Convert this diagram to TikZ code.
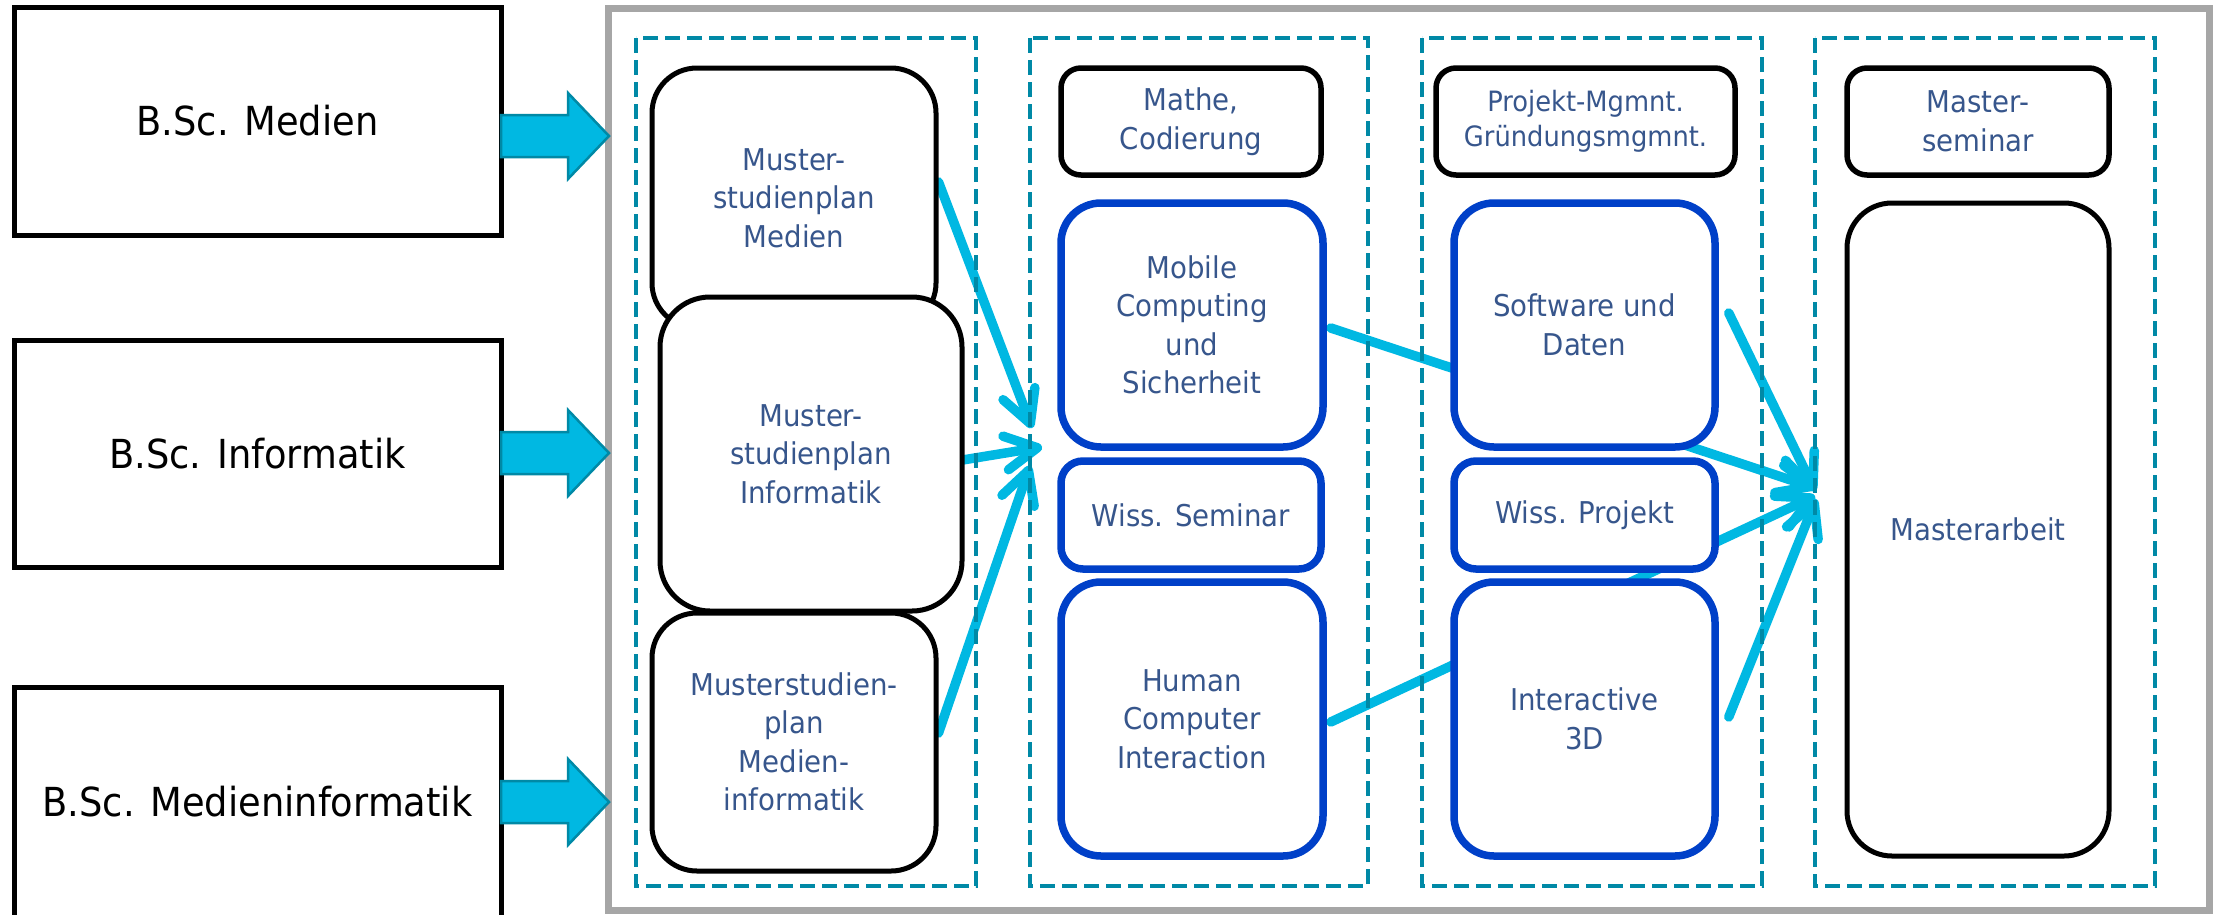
\documentclass[tikz,border=0pt]{standalone}
\usepackage{fontspec}
\setmainfont[FakeStretch=0.92]{DejaVu Sans}
\usetikzlibrary{arrows.meta,calc}
\pgfdeclarelayer{bg}
\pgfdeclarelayer{mid}
\pgfsetlayers{bg,mid,main}
\definecolor{txtc}{RGB}{55,86,140}
\definecolor{cyanfill}{RGB}{0,184,226}
\definecolor{tealc}{RGB}{0,137,166}
\definecolor{boxblue}{RGB}{0,64,200}
\definecolor{framegray}{RGB}{166,166,166}
\tikzset{
  leftbox/.style={draw=black, line width=5pt, fill=white, inner sep=0pt,
    minimum width=487pt, font=\fontsize{40}{48}\selectfont},
  bigarrow/.style={fill=cyanfill, draw=tealc, line width=2.5pt, line join=miter},
  outerframe/.style={draw=framegray, line width=7pt},
  colbox/.style={draw=tealc, line width=4.5pt, dash pattern=on 15pt off 7pt},
  blackbox/.style={draw=black, line width=5pt, fill=white, inner sep=0pt,
    align=center, text=txtc, font=\fontsize{30}{38.5}\selectfont},
  bluebox/.style={draw=boxblue, line width=7.5pt, fill=white, inner sep=0pt,
    align=center, text=txtc, font=\fontsize{30}{38.5}\selectfont},
  conn/.style={draw=cyanfill, line width=9.5pt, line cap=round,
    -{Straight Barb[length=32pt,width=34pt,round]}},
}
\begin{document}
\begin{tikzpicture}[x=1pt,y=-1pt]
\useasboundingbox (0,0) rectangle (2222,914);

% left boxes
\node[leftbox, minimum height=228pt] (bm) at (257.5,121) {B.Sc. Medien};
\node[leftbox, minimum height=227pt] (bi) at (257.5,453.5) {B.Sc. Informatik};
\node[leftbox, minimum height=230pt] (bmi) at (257.5,802) {B.Sc. Medieninformatik};

% big arrows
\foreach \yy in {136,453,802}{
  \draw[bigarrow] (501,\yy-21) -- (568,\yy-21) -- (568,\yy-43) -- (609,\yy)
    -- (568,\yy+43) -- (568,\yy+21) -- (501,\yy+21) -- cycle;
}

% column 1
\node[blackbox, rounded corners=45pt, minimum width=284pt, minimum height=260pt] (msm) at (794,198)
  {Muster-\\studienplan\\Medien};
\node[blackbox, rounded corners=50pt, minimum width=302pt, minimum height=314pt] (msi) at (811,454)
  {Muster-\\studienplan\\Informatik};
\node[blackbox, rounded corners=45pt, minimum width=284pt, minimum height=258pt] (msmi) at (794,742)
  {Musterstudien-\\plan\\Medien-\\informatik};

% column 2
\node[blackbox, line width=5.5pt, rounded corners=20pt, minimum width=260pt, minimum height=107pt] (mc) at (1191,121.5)
  {Mathe,\\Codierung};
\node[bluebox, rounded corners=40pt, minimum width=262pt, minimum height=244pt] (mob) at (1192,325)
  {Mobile\\Computing\\und\\Sicherheit};
\node[bluebox, rounded corners=22pt, minimum width=260pt, minimum height=108pt] (ws) at (1191,515)
  {Wiss. Seminar};
\node[bluebox, rounded corners=40pt, minimum width=262pt, minimum height=274pt] (hci) at (1192,719)
  {Human\\Computer\\Interaction};

% column 3
\node[blackbox, line width=5.5pt, rounded corners=20pt, minimum width=299pt, minimum height=107pt,
  font=\fontsize{28}{35}\selectfont] (pm) at (1585.5,121.5)
  {Projekt-Mgmnt.\\Gründungsmgmnt.};
\node[bluebox, rounded corners=40pt, minimum width=261pt, minimum height=244pt] (sw) at (1584.5,325)
  {Software und\\Daten};
\node[bluebox, rounded corners=22pt, minimum width=261pt, minimum height=108pt] (wp) at (1584.5,515)
  {Wiss. Projekt};
\node[bluebox, rounded corners=40pt, minimum width=261pt, minimum height=274pt] (i3d) at (1584.5,719)
  {Interactive\\3D};

% column 4
\node[blackbox, line width=5.5pt, rounded corners=20pt, minimum width=262pt, minimum height=107pt] (ms) at (1978,121.5)
  {Master-\\seminar};
\node[blackbox, rounded corners=45pt, minimum width=262pt, minimum height=653pt] (ma) at (1978,529.5)
  {Masterarbeit};

% tip coordinates
\coordinate (tl1) at (1032,428);
\coordinate (tl2) at (1042,447);
\coordinate (tl3) at (1030,466);
\coordinate (tr1) at (1815,488);
\coordinate (tr2) at (1815,491);
\coordinate (tr3) at (1815,496);
\coordinate (tr4) at (1816,499);

\begin{pgfonlayer}{bg}
  \fill[white] (0,0) rectangle (2222,914);
  \draw[outerframe] (608,8) rectangle (2209,910);
  \draw[conn] ($(msm.east)+(0,-16)$) -- (tl1);
  \draw[conn] ($(msi.east)+(-2,6)$) -- (tl2);
  \draw[conn] ($(msmi.east)+(0,-9)$) -- (tl3);
  \draw[conn] ($(mob.east)+(4,3)$) -- (tr1);
  \draw[conn] ($(sw.east)+(10,-12)$) -- (tr2);
  \draw[conn] ($(hci.east)+(4,3)$) -- (tr3);
  \draw[conn] ($(i3d.east)+(10,-2)$) -- (tr4);
\end{pgfonlayer}

\begin{pgfonlayer}{mid}
  \draw[colbox] (636,38) rectangle (976,886);
  \draw[colbox] (1030,38) rectangle (1368,886);
  \draw[colbox] (1422,38) rectangle (1762,886);
  \draw[colbox] (1815,38) rectangle (2155,886);
\end{pgfonlayer}
\end{tikzpicture}
\end{document}
